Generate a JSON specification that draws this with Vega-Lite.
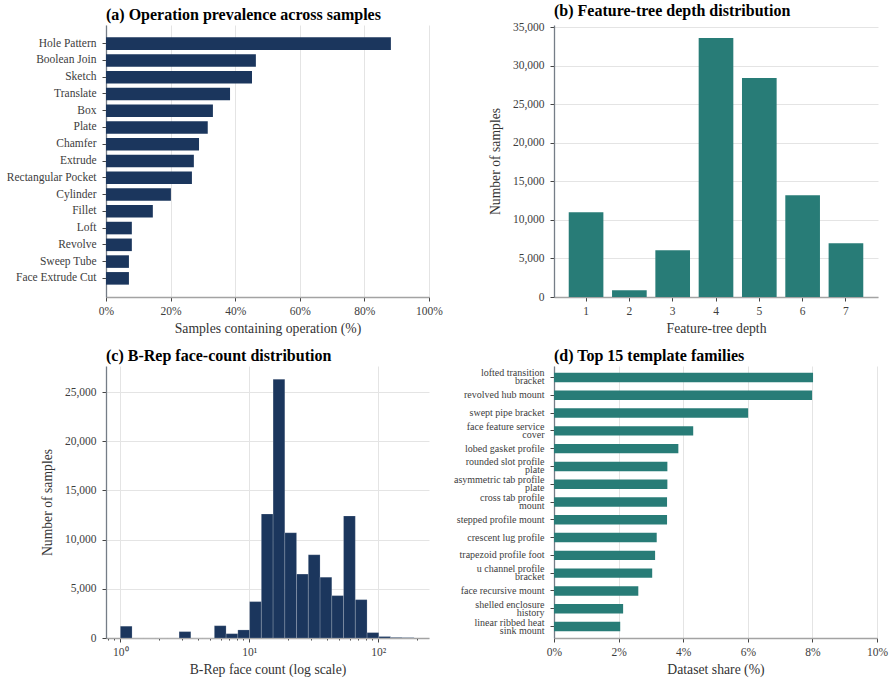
{
  "$schema": "https://vega.github.io/schema/vega-lite/v6.json",
  "background": "white",
  "padding": {"left": 6, "top": 3, "right": 5, "bottom": 5},
  "bounds": "flush",
  "columns": 2,
  "spacing": {"row": 69, "column": 125},
  "datasets": {
    "ops": [
      {"op": "Hole Pattern", "pct": 88.2},
      {"op": "Boolean Join", "pct": 46.4},
      {"op": "Sketch", "pct": 45.2},
      {"op": "Translate", "pct": 38.4},
      {"op": "Box", "pct": 33.1},
      {"op": "Plate", "pct": 31.5},
      {"op": "Chamfer", "pct": 28.8},
      {"op": "Extrude", "pct": 27.2},
      {"op": "Rectangular Pocket", "pct": 26.6},
      {"op": "Cylinder", "pct": 20.1},
      {"op": "Fillet", "pct": 14.5},
      {"op": "Loft", "pct": 8.0},
      {"op": "Revolve", "pct": 8.0},
      {"op": "Sweep Tube", "pct": 7.1},
      {"op": "Face Extrude Cut", "pct": 7.1}
    ],
    "depth": [
      {"depth": 1, "count": 11000},
      {"depth": 2, "count": 870},
      {"depth": 3, "count": 6070},
      {"depth": 4, "count": 33600},
      {"depth": 5, "count": 28400},
      {"depth": 6, "count": 13200},
      {"depth": 7, "count": 6980}
    ],
    "faces": [
      {"lo": 1, "hi": 1.233, "count": 1200},
      {"lo": 1.233, "hi": 1.522, "count": 0},
      {"lo": 1.522, "hi": 1.877, "count": 0},
      {"lo": 1.877, "hi": 2.315, "count": 0},
      {"lo": 2.315, "hi": 2.856, "count": 0},
      {"lo": 2.856, "hi": 3.523, "count": 650},
      {"lo": 3.523, "hi": 4.346, "count": 0},
      {"lo": 4.346, "hi": 5.361, "count": 0},
      {"lo": 5.361, "hi": 6.612, "count": 1250},
      {"lo": 6.612, "hi": 8.157, "count": 440},
      {"lo": 8.157, "hi": 10.06, "count": 820},
      {"lo": 10.06, "hi": 12.41, "count": 3700},
      {"lo": 12.41, "hi": 15.31, "count": 12600},
      {"lo": 15.31, "hi": 18.88, "count": 26300},
      {"lo": 18.88, "hi": 23.29, "count": 10700},
      {"lo": 23.29, "hi": 28.72, "count": 6500},
      {"lo": 28.72, "hi": 35.43, "count": 8460},
      {"lo": 35.43, "hi": 43.7, "count": 6180},
      {"lo": 43.7, "hi": 53.9, "count": 4310},
      {"lo": 53.9, "hi": 66.5, "count": 12400},
      {"lo": 66.5, "hi": 82.05, "count": 3900},
      {"lo": 82.05, "hi": 101.2, "count": 550},
      {"lo": 101.2, "hi": 124.9, "count": 150},
      {"lo": 124.9, "hi": 154.0, "count": 60},
      {"lo": 154.0, "hi": 190.0, "count": 40}
    ],
    "families": [
      {"family": "lofted transition bracket", "share": 8.02},
      {"family": "revolved hub mount", "share": 7.99},
      {"family": "swept pipe bracket", "share": 6.01},
      {"family": "face feature service cover", "share": 4.31},
      {"family": "lobed gasket profile", "share": 3.85},
      {"family": "rounded slot profile plate", "share": 3.51},
      {"family": "asymmetric tab profile plate", "share": 3.51},
      {"family": "cross tab profile mount", "share": 3.5},
      {"family": "stepped profile mount", "share": 3.5},
      {"family": "crescent lug profile", "share": 3.18},
      {"family": "trapezoid profile foot", "share": 3.13},
      {"family": "u channel profile bracket", "share": 3.04},
      {"family": "face recursive mount", "share": 2.61},
      {"family": "shelled enclosure history", "share": 2.14},
      {"family": "linear ribbed heat sink mount", "share": 2.05}
    ]
  },
  "concat": [
    {
      "title": {"text": "(a) Operation prevalence across samples"},
      "width": 323,
      "height": 272,
      "data": {"name": "ops"},
      "mark": {"type": "bar", "color": "#1b365d"},
      "encoding": {
        "x": {
          "field": "pct",
          "type": "quantitative",
          "scale": {"domain": [0, 100], "nice": false},
          "axis": {
            "values": [0, 20, 40, 60, 80, 100],
            "labelExpr": "datum.value + '%'",
            "grid": true,
            "title": "Samples containing operation (%)"
          }
        },
        "y": {
          "field": "op",
          "type": "nominal",
          "sort": null,
          "scale": {"paddingInner": 0.25, "paddingOuter": 0.7375},
          "axis": {"title": null, "grid": false}
        }
      }
    },
    {
      "title": {"text": "(b) Feature-tree depth distribution"},
      "width": 324,
      "height": 272,
      "data": {"name": "depth"},
      "mark": {"type": "bar", "color": "#287c77"},
      "encoding": {
        "x": {
          "field": "depth",
          "type": "ordinal",
          "scale": {"paddingInner": 0.2, "paddingOuter": 0.34},
          "axis": {"labelAngle": 0, "title": "Feature-tree depth", "grid": false}
        },
        "y": {
          "field": "count",
          "type": "quantitative",
          "scale": {"domain": [0, 35280], "nice": false},
          "axis": {
            "values": [0, 5000, 10000, 15000, 20000, 25000, 30000, 35000],
            "format": ",.0f",
            "grid": true,
            "title": "Number of samples"
          }
        }
      }
    },
    {
      "title": {"text": "(c) B-Rep face-count distribution"},
      "width": 323,
      "height": 272,
      "data": {"name": "faces"},
      "mark": {"type": "bar", "color": "#1b365d", "stroke": "#ffffff", "strokeWidth": 0.5, "strokeOpacity": 0.35},
      "encoding": {
        "x": {
          "field": "lo",
          "type": "quantitative",
          "scale": {"type": "log", "domain": [0.774, 248], "nice": false},
          "axis": {
            "values": [0.8, 0.9, 1, 2, 3, 4, 5, 6, 7, 8, 9, 10, 20, 30, 40, 50, 60, 70, 80, 90, 100, 200],
            "labelExpr": "datum.value == 1 ? '10⁰' : datum.value == 10 ? '10¹' : datum.value == 100 ? '10²' : ''",
            "labelOverlap": false,
            "tickSize": {"condition": {"test": "datum.value == 1 || datum.value == 10 || datum.value == 100", "value": 4}, "value": 2},
            "gridOpacity": {"condition": {"test": "datum.value == 1 || datum.value == 10 || datum.value == 100", "value": 1}, "value": 0},
            "grid": true,
            "title": "B-Rep face count (log scale)"
          }
        },
        "x2": {"field": "hi"},
        "y": {
          "field": "count",
          "type": "quantitative",
          "scale": {"domain": [0, 27650], "nice": false},
          "axis": {
            "values": [0, 5000, 10000, 15000, 20000, 25000],
            "format": ",.0f",
            "grid": true,
            "title": "Number of samples"
          }
        },
        "y2": {"datum": 0}
      }
    },
    {
      "title": {"text": "(d) Top 15 template families"},
      "width": 323,
      "height": 272,
      "data": {"name": "families"},
      "mark": {"type": "bar", "color": "#287c77"},
      "encoding": {
        "x": {
          "field": "share",
          "type": "quantitative",
          "scale": {"domain": [0, 10], "nice": false},
          "axis": {
            "values": [0, 2, 4, 6, 8, 10],
            "labelExpr": "datum.value + '%'",
            "grid": true,
            "title": "Dataset share (%)"
          }
        },
        "y": {
          "field": "family",
          "type": "nominal",
          "sort": null,
          "scale": {"paddingInner": 0.47, "paddingOuter": 0.38},
          "axis": {
            "title": null,
            "grid": false,
            "labelFontSize": 10,
            "labelLineHeight": 8,
            "labelOffset": {"condition": {"test": "length(datum.label) > 22", "value": -4}, "value": 0},
            "labelExpr": "length(datum.label) <= 22 ? datum.label : [substring(datum.label, 0, lastindexof(substring(datum.label, 0, 23), ' ')), substring(datum.label, lastindexof(substring(datum.label, 0, 23), ' ') + 1)]"
          }
        }
      }
    }
  ],
  "config": {
    "font": "Liberation Serif",
    "view": {"stroke": null},
    "title": {
      "font": "Liberation Serif",
      "fontSize": 16,
      "fontWeight": "bold",
      "color": "#000000",
      "anchor": "start",
      "frame": "group",
      "baseline": "alphabetic",
      "offset": 2
    },
    "axis": {
      "labelFont": "Liberation Serif",
      "titleFont": "Liberation Serif",
      "labelFontSize": 11.5,
      "titleFontSize": 13.7,
      "titleFontWeight": "normal",
      "labelColor": "#3d3d3d",
      "titleColor": "#333333",
      "domainWidth": 1.3,
      "tickColor": "#444444",
      "tickSize": 4,
      "tickWidth": 1,
      "labelFlush": false,
      "gridColor": "#e4e4e4",
      "gridWidth": 1
    },
    "axisX": {"titlePadding": 5, "labelPadding": 4, "domainColor": "#a3a3a3"},
    "axisY": {"titlePadding": 10, "labelPadding": 6, "domainColor": "#757d87"}
  }
}
